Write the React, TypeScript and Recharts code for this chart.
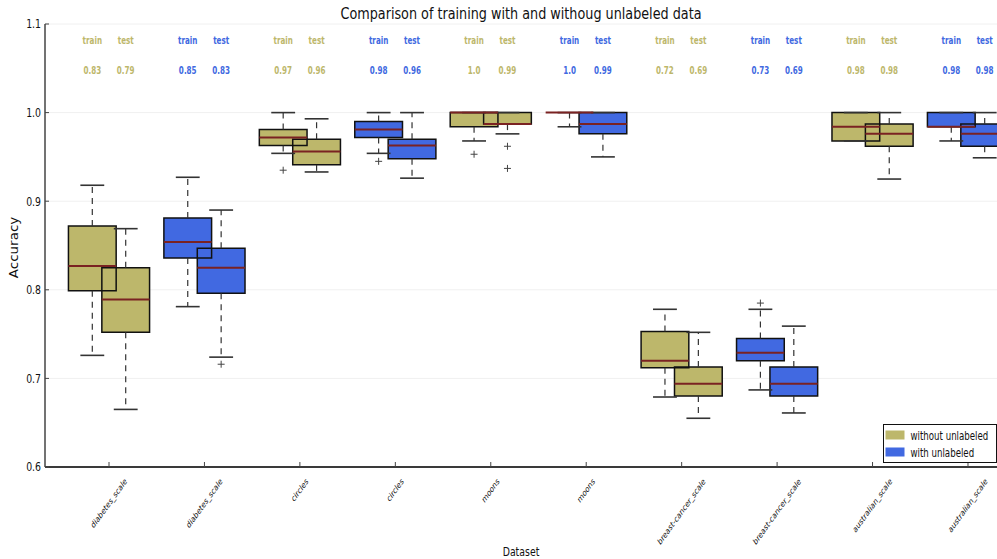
import React from 'react';
import {
  ComposedChart,
  XAxis,
  YAxis,
  CartesianGrid,
  ReferenceArea,
  ReferenceLine,
  Scatter,
  Label,
} from 'recharts';

// ---------------- data ----------------
const categories = [
  'diabetes_scale',
  'diabetes_scale',
  'circles',
  'circles',
  'moons',
  'moons',
  'breast-cancer_scale',
  'breast-cancer_scale',
  'australian_scale',
  'australian_scale',
];
const seriesNames = ['without unlabeled', 'with unlabeled'];
const seriesColors = ['#bdb76b', '#4169e1'];
const seriesOfCategory = [0, 1, 0, 1, 0, 1, 0, 1, 0, 1];

const trainLow = [0.726, 0.781, 0.954, 0.954, 0.968, 0.984, 0.679, 0.687, 0.968, 0.968];
const trainQ1 = [0.799, 0.836, 0.963, 0.972, 0.984, 1.0, 0.712, 0.72, 0.968, 0.984];
const trainMedian = [0.827, 0.854, 0.972, 0.981, 1.0, 1.0, 0.72, 0.729, 0.984, 0.984];
const trainQ3 = [0.872, 0.881, 0.981, 0.99, 1.0, 1.0, 0.753, 0.745, 1.0, 1.0];
const trainHigh = [0.918, 0.927, 1.0, 1.0, 1.0, 1.0, 0.778, 0.778, 1.0, 1.0];
const trainOutliers: number[][] = [[], [], [0.935], [0.945], [0.953], [], [], [0.785], [], []];

const testLow = [0.665, 0.724, 0.933, 0.926, 0.976, 0.95, 0.655, 0.661, 0.925, 0.949];
const testQ1 = [0.752, 0.796, 0.941, 0.948, 0.987, 0.976, 0.68, 0.68, 0.962, 0.962];
const testMedian = [0.789, 0.825, 0.956, 0.963, 0.987, 0.987, 0.694, 0.694, 0.976, 0.976];
const testQ3 = [0.825, 0.847, 0.97, 0.97, 1.0, 1.0, 0.713, 0.713, 0.987, 0.987];
const testHigh = [0.869, 0.89, 0.993, 1.0, 1.0, 1.0, 0.752, 0.759, 1.0, 1.0];
const testOutliers: number[][] = [[], [0.716], [], [], [0.962, 0.937], [], [], [], [], []];

const trainScoreLabels = ['0.83', '0.85', '0.97', '0.98', '1.0', '1.0', '0.72', '0.73', '0.98', '0.98'];
const testScoreLabels = ['0.79', '0.83', '0.96', '0.96', '0.99', '0.99', '0.69', '0.69', '0.98', '0.98'];
const phaseLabels = ['train', 'test'];

const yTicks = [0.6, 0.7, 0.8, 0.9, 1.0, 1.1];
const Y_DOMAIN: [number, number] = [0.6, 1.1];
const X_DOMAIN: [number, number] = [0.3294, 10.304];
const HEADER_Y = 1.0775;
const SCORE_Y = 1.044;

const TITLE = 'Comparison of training with and withoug unlabeled data';
const X_TITLE = 'Dataset';
const Y_TITLE = 'Accuracy';

// ---------------- style ----------------
const FONT = 'DejaVu Sans';
const SQ = 0.72; // horizontal squeeze of text
const TITLE_SQ = 0.8;
const BOX_OFFSET = 0.175;
const BOX_HALF = 0.25;
const CAP_HALF = 0.125;
const MEDIAN_COLOR = '#7a2222';
const EDGE = '#111';
const WHISKER = '#333';
const TITLE_POS = { x: 521, y: 19 };

const tickPositions = categories.map((_, i) => i + 1);

type Box = {
  center: number;
  low: number;
  q1: number;
  med: number;
  q3: number;
  high: number;
  color: string;
  outliers: number[];
};

const boxes: Box[] = categories.flatMap((_, i) => {
  const color = seriesColors[seriesOfCategory[i]];
  return [
    {
      center: i + 1 - BOX_OFFSET,
      low: trainLow[i],
      q1: trainQ1[i],
      med: trainMedian[i],
      q3: trainQ3[i],
      high: trainHigh[i],
      color,
      outliers: trainOutliers[i],
    },
    {
      center: i + 1 + BOX_OFFSET,
      low: testLow[i],
      q1: testQ1[i],
      med: testMedian[i],
      q3: testQ3[i],
      high: testHigh[i],
      color,
      outliers: testOutliers[i],
    },
  ];
});

const outlierPoints = boxes.flatMap((b) => b.outliers.map((v) => ({ x: b.center, y: v })));

const annotationPoints = categories.flatMap((_, i) => {
  const color = seriesColors[seriesOfCategory[i]];
  return [
    { x: i + 1 - BOX_OFFSET, y: HEADER_Y, text: phaseLabels[0], color },
    { x: i + 1 + BOX_OFFSET, y: HEADER_Y, text: phaseLabels[1], color },
    { x: i + 1 - BOX_OFFSET, y: SCORE_Y, text: trainScoreLabels[i], color },
    { x: i + 1 + BOX_OFFSET, y: SCORE_Y, text: testScoreLabels[i], color },
  ];
});

const CHAR_EM: Record<string, number> = {
  a: 0.613, b: 0.635, c: 0.55, d: 0.635, e: 0.615, h: 0.634, i: 0.278, k: 0.579,
  l: 0.278, m: 0.974, n: 0.634, o: 0.612, p: 0.635, r: 0.411, s: 0.521, t: 0.392,
  u: 0.634, _: 0.5, '-': 0.361,
};
const textWidth = (s: string, size: number) =>
  s.split('').reduce((acc, ch) => acc + (CHAR_EM[ch] ?? 0.6), 0) * size;

// ---------------- custom renderers ----------------
const BottomTick = (props: any) => {
  const { x, y, payload } = props;
  const label = categories[Math.round(payload.value) - 1] ?? '';
  const fs = 9;
  const extent = (textWidth(label, fs) + fs * 0.9) * 0.7071;
  const cy = y + 10 + extent / 2;
  return (
    <g>
      <line x1={x} y1={y} x2={x} y2={y - 5} stroke="#444" strokeWidth={1} />
      <text
        transform={`translate(${x},${cy}) scale(${SQ},1) rotate(-45)`}
        textAnchor="middle"
        dominantBaseline="central"
        fontSize={fs}
        fontFamily={FONT}
        fill="#111"
      >
        {label}
      </text>
    </g>
  );
};

const TopTick = (props: any) => {
  const { x, y } = props;
  return <line x1={x} y1={y} x2={x} y2={y + 5} stroke="#444" strokeWidth={1} />;
};

const LeftTick = (props: any) => {
  const { x, y, payload } = props;
  return (
    <g>
      <line x1={x} y1={y} x2={x + 4} y2={y} stroke="#444" strokeWidth={1} />
      <text
        transform={`translate(${x - 4},${y + 4.4}) scale(${SQ},1)`}
        textAnchor="end"
        fontSize={13}
        fontFamily={FONT}
        fill="#111"
      >
        {Number(payload.value).toFixed(1)}
      </text>
    </g>
  );
};

const DatasetLabel = (props: any) => {
  const vb = props.viewBox || {};
  return (
    <text
      transform={`translate(${vb.x + vb.width / 2},${vb.y + 88.5}) scale(${SQ},1)`}
      textAnchor="middle"
      fontSize={13}
      fontFamily={FONT}
      fill="#111"
    >
      {X_TITLE}
    </text>
  );
};

const AccuracyLabel = (props: any) => {
  const vb = props.viewBox || {};
  return (
    <text
      transform={`translate(${vb.x + 14},${vb.y + vb.height / 2 + 2}) scale(0.85,1) rotate(-90)`}
      textAnchor="middle"
      dominantBaseline="central"
      fontSize={13.5}
      fontFamily={FONT}
      fill="#111"
    >
      {Y_TITLE}
    </text>
  );
};

const PlusShape = (props: any) => {
  const { cx, cy } = props;
  if (cx == null || cy == null) return <g />;
  return (
    <g>
      <line x1={cx - 3.5} y1={cy} x2={cx + 3.5} y2={cy} stroke="#444" strokeWidth={1} />
      <line x1={cx} y1={cy - 3.5} x2={cx} y2={cy + 3.5} stroke="#444" strokeWidth={1} />
    </g>
  );
};

const AnnotationShape = (props: any) => {
  const { cx, cy, payload } = props;
  if (cx == null || cy == null) return <g />;
  return (
    <text
      transform={`translate(${cx},${cy}) scale(${SQ},1)`}
      textAnchor="middle"
      fontSize={10}
      fontWeight="bold"
      fontFamily={FONT}
      fill={payload.color}
    >
      {payload.text}
    </text>
  );
};

// ---------------- overlay: title + legend ----------------
const LEGEND_X = 883.5;
const LEGEND_Y = 424.5;

const Overlay = () => (
  <svg
    width={997}
    height={559}
    style={{ position: 'absolute', left: 0, top: 0, pointerEvents: 'none' }}
  >
    <text
      transform={`translate(${TITLE_POS.x},${TITLE_POS.y}) scale(${TITLE_SQ},1)`}
      textAnchor="middle"
      fontSize={16}
      fontFamily={FONT}
      fill="#111"
    >
      {TITLE}
    </text>
    <rect x={LEGEND_X} y={LEGEND_Y} width={113} height={38} fill="#fff" stroke="#111" strokeWidth={1} />
    {seriesNames.map((name, k) => (
      <g key={name}>
        <rect x={LEGEND_X + 2} y={LEGEND_Y + 6 + k * 17} width={19} height={9} fill={seriesColors[k]} />
        <text
          transform={`translate(${LEGEND_X + 27},${LEGEND_Y + 15.5 + k * 17}) scale(${SQ},1)`}
          fontSize={12}
          fontFamily={FONT}
          fill="#111"
        >
          {name}
        </text>
      </g>
    ))}
  </svg>
);

export default function App() {
  return (
    <div
      style={{
        position: 'fixed',
        left: 0,
        top: 0,
        width: 997,
        height: 559,
        overflow: 'hidden',
        background: '#fff',
        fontFamily: FONT,
      }}
    >
      <ComposedChart width={997} height={559} margin={{ top: 24, right: 0, bottom: 0, left: 0 }}>
        <CartesianGrid vertical={false} stroke="#f0f0f0" strokeWidth={1} />
        <XAxis
          xAxisId={0}
          dataKey="x"
          type="number"
          scale="linear"
          domain={X_DOMAIN}
          allowDataOverflow
          ticks={tickPositions}
          interval={0}
          tickSize={0}
          tickMargin={0}
          tickLine={false}
          tick={BottomTick}
          axisLine={{ stroke: '#3a3a3a', strokeWidth: 2 }}
          height={92}
        >
          <Label content={DatasetLabel} />
        </XAxis>
        <XAxis
          xAxisId="top"
          orientation="top"
          dataKey="x"
          type="number"
          scale="linear"
          domain={X_DOMAIN}
          allowDataOverflow
          ticks={tickPositions}
          interval={0}
          tickSize={0}
          tickMargin={0}
          tickLine={false}
          tick={TopTick}
          axisLine={{ stroke: '#6a6a6a', strokeWidth: 1.5 }}
          height={0}
        />
        <YAxis
          dataKey="y"
          type="number"
          domain={Y_DOMAIN}
          allowDataOverflow
          ticks={yTicks}
          interval={0}
          width={45}
          tickSize={0}
          tickMargin={0}
          tickLine={false}
          tick={LeftTick}
          axisLine={{ stroke: '#444', strokeWidth: 1.5 }}
        >
          <Label content={AccuracyLabel} />
        </YAxis>

        {boxes.map((b, k) => (
          <ReferenceArea
            key={`fill-${k}`}
            x1={b.center - BOX_HALF}
            x2={b.center + BOX_HALF}
            y1={b.q1}
            y2={b.q3}
            fill={b.color}
            fillOpacity={1}
            stroke="none"
            ifOverflow="hidden"
          />
        ))}
        {boxes.map((b, k) =>
          b.high > b.q3 ? (
            <ReferenceLine
              key={`wu-${k}`}
              segment={[
                { x: b.center, y: b.q3 },
                { x: b.center, y: b.high },
              ]}
              stroke={WHISKER}
              strokeWidth={1.2}
              strokeDasharray="6 5"
              ifOverflow="hidden"
            />
          ) : null
        )}
        {boxes.map((b, k) =>
          b.low < b.q1 ? (
            <ReferenceLine
              key={`wl-${k}`}
              segment={[
                { x: b.center, y: b.q1 },
                { x: b.center, y: b.low },
              ]}
              stroke={WHISKER}
              strokeWidth={1.2}
              strokeDasharray="6 5"
              ifOverflow="hidden"
            />
          ) : null
        )}
        {boxes.map((b, k) => (
          <ReferenceLine
            key={`cu-${k}`}
            segment={[
              { x: b.center - CAP_HALF, y: b.high },
              { x: b.center + CAP_HALF, y: b.high },
            ]}
            stroke={WHISKER}
            strokeWidth={1.6}
            ifOverflow="hidden"
          />
        ))}
        {boxes.map((b, k) => (
          <ReferenceLine
            key={`cl-${k}`}
            segment={[
              { x: b.center - CAP_HALF, y: b.low },
              { x: b.center + CAP_HALF, y: b.low },
            ]}
            stroke={WHISKER}
            strokeWidth={1.6}
            ifOverflow="hidden"
          />
        ))}
        {boxes.map((b, k) => (
          <ReferenceArea
            key={`edge-${k}`}
            x1={b.center - BOX_HALF}
            x2={b.center + BOX_HALF}
            y1={b.q1}
            y2={b.q3}
            fill="none"
            fillOpacity={0}
            stroke={EDGE}
            strokeWidth={1.5}
            ifOverflow="hidden"
          />
        ))}
        {boxes.map((b, k) => (
          <ReferenceLine
            key={`med-${k}`}
            segment={[
              { x: b.center - BOX_HALF, y: b.med },
              { x: b.center + BOX_HALF, y: b.med },
            ]}
            stroke={MEDIAN_COLOR}
            strokeWidth={2}
            ifOverflow="hidden"
          />
        ))}
        <Scatter data={outlierPoints} dataKey="y" shape={PlusShape} isAnimationActive={false} />
        <Scatter data={annotationPoints} dataKey="y" shape={AnnotationShape} isAnimationActive={false} />
      </ComposedChart>
      <Overlay />
    </div>
  );
}
